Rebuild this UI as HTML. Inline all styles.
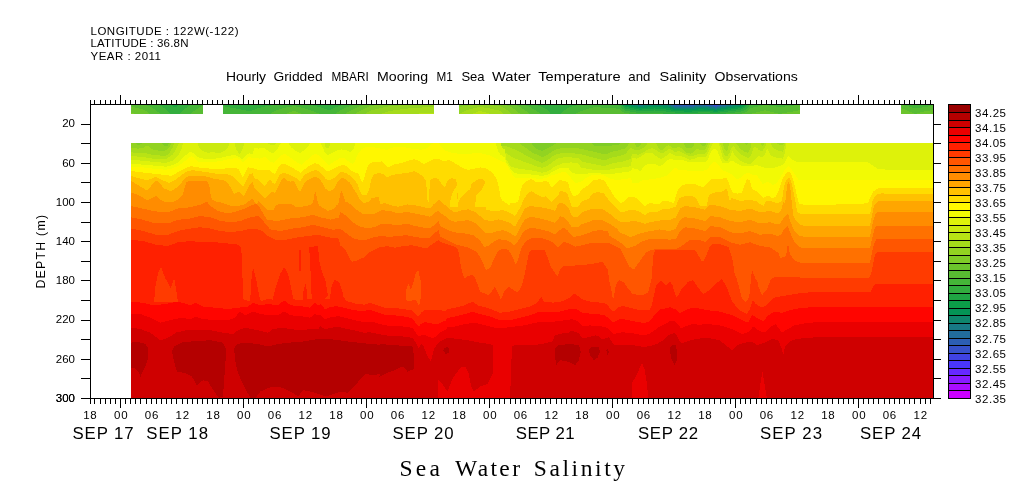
<!DOCTYPE html>
<html><head><meta charset="utf-8"><title>Sea Water Salinity</title>
<style>html,body{margin:0;padding:0;background:#fff}svg{display:block}text{font-family:"Liberation Sans",sans-serif;fill:#000}.s{font-family:"Liberation Serif",serif}</style></head><body>
<svg width="1009" height="504" viewBox="0 0 1009 504">
<rect width="1009" height="504" fill="#fff"/>
<g shape-rendering="crispEdges">
<clipPath id="fc"><rect x="131.0" y="143.0" width="802.6" height="255.5"/></clipPath>
<g clip-path="url(#fc)">
<rect x="131.0" y="143.0" width="802.6" height="256.0" fill="#7fcc27"/>
<path d="M130 400L130 140L131 140L135 140L136 143.4L138 144.9L141 144.4L142 144L143 140L161 140L162 143.3L164 145.7L167 146.6L171 140L529 140L535 148.1L542 151L548 148.2L555 144.2L559 140L588 140L594 145.5L606 146.1L618 144.9L626 140L933 140L934.6 140L934.6 400Z" fill="#92d321"/>
<path d="M130 400L130 148L131 148L138 148.6L143 148L147 145.6L149 146.6L153 149.9L163 151.1L168 149.2L170 146.2L171 143.5L172 140L515 140L531 151.8L542 157.2L547 155L554 150.3L559 148.6L566 148L576 148L584 149.4L601 153.6L606 154.2L612 151.8L619 150.3L625 148.4L628 145.9L630 140L634 140L635 143.9L637 147.4L640 145.9L641 145L642 140L682 140L686 147.5L689 148.5L690 148.4L693 146.9L696 140L699 140L700 143.6L702 146.1L705 145.6L706 145L707 140L743 140L746 145.2L748 143.2L749 140L933 140L934.6 140L934.6 400Z" fill="#a5db1b"/>
<path d="M130 400L130 152.4L131 152.4L148 153.6L153 154.9L160 155.5L166 155.5L167 155.2L170 152.2L173 146.8L174 143.8L175 140L340 140L341 146.1L506 146.1L518 150.9L527 156L536 160.5L542 162.9L547 160.6L554 155.3L559 153.6L568 153L579 153.8L602 159.8L606 159.9L612 157.5L621 155.5L626 153.6L629 149.4L631 147.6L632 149.2L638 150.4L639 150.1L643 148.1L647 144.2L650 140L655 140L656 143.5L658 147.5L661 150.2L662 150L668 145.1L674 148.4L675 148.4L678 146.9L679 147.1L682 148.6L687 153L690 153.5L691 153.5L694 152L697 148.6L702 150.5L705 149.5L706 148.6L708 143.6L709 140L722 140L724 148L725 149.8L727 151.8L730 140L735 140L736 143.3L740 148.4L744 151.4L748 152.9L750 149.5L751 147L752 140L759 140L762 146.5L764 144.5L765 140L776 140L777 143.2L780 145.5L783 144.9L784 143.4L785 140L933 140L934.6 140L934.6 400Z" fill="#b8e315"/>
<path d="M130 400L130 156.1L131 156.1L141 156.8L153 158.6L165 159.2L166 158.9L172 155.2L175 151.2L179 143.5L180 140L342 140L343 153L506 153L513 157.7L536 166.1L542 167.9L547 166.2L557 158.8L563 157.4L571 157.4L579 158.5L580 158.9L582 161.4L583 161.9L601 165.5L606 165.5L613 163.2L622 161.8L628 159.8L631 158.5L632 153.6L638 154.8L643 152.5L648 149.4L652 148L657 150.5L661 153.5L664 152.5L669 149L670 148.9L674 151.4L675 151.7L679 151.2L680 151.4L684 153.4L689 156.4L690 156.6L694 155.6L699 153.8L704 154.2L705 153.7L707 151.2L708 149.4L710 143.4L711 140L719 140L720 144L722 148L724 154.3L727 156.8L730 151.9L731 149.1L733 145.8L734 146.6L736 149.5L741 154.4L746 157.4L749 157.9L750 157L752 153L754 146.8L757 147.7L758 149.2L761 151.2L762 151.4L765 147.5L766 143.5L767 140L770 140L771 144L773 148L778 150.5L783 151.8L785 144.2L786 140L933 140L934.6 140L934.6 400Z" fill="#cbea10"/>
<path d="M130 400L130 159.9L131 159.9L141 160.6L165 162.9L166 162.8L173 160.5L178 155.5L181 150.5L184 140L197 140L198 144.7L199 147.3L200 148.6L203 151.1L208 153L213 151.8L218 153.6L223 151.8L228 148L229 144L230 140L234 140L236 148.8L239 153.8L240 153.3L242 150.9L244 144L245 140L267 140L268 143.2L270 144.7L274 145.5L277 143.1L278 140L324 140L325 146L326 147.3L327 148.1L328 148.3L330 145.8L331 140L500 140L502 148.1L505 149.4L506 159.2L511 166.8L519 168.7L536 171.1L542 172.9L548 171.3L554 167.1L558 165.1L563 163.2L571 162.4L578 163.2L581 167.4L588 169.1L596 169.9L606 170.5L614 168.6L631 166.3L632 158L637 158.6L641 156.5L645 153.5L649 152.5L650 152.5L653 153.5L657 156.8L661 159.1L665 156.9L669 153.4L670 153.2L675 155.5L680 155.7L684 157.2L689 159.6L690 159.8L694 158.8L699 156.9L705 157.3L706 156.9L708 153.4L711 146.4L713 143.4L714 140L718 140L720 148.2L723 158.4L724 159.8L727 161.8L730 156.8L731 154.5L732 150.5L734 154.4L738 159L744 162.7L750 164.1L751 164L757 157.8L758 155.5L761 157L762 157.2L765 154.7L767 148.5L770 154.5L771 155.7L777 158L783 158.6L785 152.4L787 140L933 140L934.6 140L934.6 400Z" fill="#def20a"/>
<path d="M130 400L130 163.6L131 163.6L166 166.7L172 165.4L178 162.4L187 154.1L190 152.1L191 152L193 153L197 156.8L203 158.6L216 158.5L223 157.4L230 155.6L235 154.9L236 155.2L242 159L243 158.5L246 155.2L249 153.2L253 154.5L254 148L259 148.6L263 147.5L272 153.2L273 153.4L277 149.4L280 144.7L282 143.1L283 140L287 140L291 147.3L295 150.3L300 152.9L304 150.5L308 146.4L310 143.4L311 140L319 140L325 152.6L327 154.8L328 155.3L332 152.8L336 150.8L341 149.4L346 149.8L350 152.2L351 151.5L354 148L355 144L356 140L495 140L498 151.2L501 155.2L505 157.5L506 161.8L509 166.8L510 168.2L515 173.1L521 174.2L529 174.3L536 174.9L542 176.1L548 174.4L558 168.9L563 167.5L568 167.9L569 168.8L571 171.8L576 174.2L583 174.2L591 173L598 173L606 174.2L614 173.6L631 171.3L632 168L637 169.2L640 170.8L641 170.8L644 166.2L645 165.3L649 163.8L654 163.6L659 165.9L660 165.9L663 164.4L669 159.1L670 158.8L675 159.9L682 159.9L688 161.7L697 161.8L704 162.3L705 162L708 159.5L711 151.4L713 148.9L714 148.9L717 149.9L722 162.4L727 163.6L732 160.5L736 163.1L741 165.5L749 166.1L754 165.6L757 164.6L758 165.5L766 168L773 168L781 165.8L785 162.7L787 157.7L788 156.5L789 156.2L792 159.4L798 162.4L868 162.4L873 165.5L877 168.6L884 168.6L885 169.5L933 169.5L934.6 169.5L934.6 400Z" fill="#f2fa04"/>
<path d="M130 400L130 166.8L131 166.8L143 167.4L153 168.6L166 169.8L172 168.5L178 166.1L184 161.9L189 157.6L191 156.5L192 156.3L194 157.8L198 161.8L206 162.3L215 161.8L223 160.5L230 158.8L236 158.1L237 158.1L240 159.6L243 163L246 158.9L249 156.9L253 158.2L254 158L260 158.6L265 156.8L266 157.5L270 161.5L274 163L281 155.4L284 153.9L285 153.9L298 163.1L301 164.6L302 164.5L312 155.5L313 154.8L316 153.7L319 155.5L326 163L329 164.9L339 158.6L341 157.6L342 157.5L345 158.5L349 161.8L352 163.8L353 163.9L355 160.9L358 153.9L361 149.9L362 149L366 146.8L367 146.6L379 147.9L380 148.6L387 149.8L388 149.6L393 147.3L402 146.8L411 148.6L421 149.8L427 148.2L431 144.5L433 143.4L434 140L438 140L439 143.4L441 146.4L445 150.5L452 152.8L461 154.2L480 153L490 155.5L502 161.5L505 161.8L506 164L510 170.3L513 175.8L514 177L517 178.5L531 177.4L539 179.2L546 178L551 175.5L556 174.2L561 172.4L566 172.4L570 176L572 180L576 183L581 181.8L586 178L591 175.5L598 174.6L605 175.7L610 178.7L616 179.9L623 179.3L631 178.1L632 182.4L637 183.6L642 180.5L659 178.1L667 175.5L672 170.5L675 168L676 167.6L678 169.6L684 170.4L702 171.1L707 169.9L711 164.1L714 162.1L715 162.1L718 164.1L722 169.9L729 172.8L733 175.3L737 179.2L741 177.8L745 173.9L747 172.8L748 172.6L751 174.3L757 175.3L758 177.4L763 184.2L767 182L768 182.1L773 184.9L776 183.4L777 182.6L785 169.7L788 166.2L789 165.9L792 169.7L795 174.7L799 180.2L800 180.5L933 180.4L934.6 180.4L934.6 400Z" fill="#fff700"/>
<path d="M130 400L130 171.1L131 171.1L171 175.7L172 175.6L184 168.8L190 166.3L191 166.2L198 167.4L206 168.1L215 169.4L231 168L238 168.6L243 177.4L245 172.8L248 167.4L253 167.9L254 168.6L259 169.9L264 170.5L268 169.4L274 173.8L275 173.5L278 167.7L281 164.2L284 163.7L285 163.8L294 168.6L301 172.9L304 169.9L308 166.6L315 163.1L319 164.2L326 170.7L327 171L330 170.5L341 165.3L343 165L346 166L350 169.6L354 172.4L357 172.9L358 173.5L360 177.5L362 182.7L364 179.2L366 171.4L368 165.9L371 162.9L372 162.3L376 161.6L380 161.8L382 161.2L383 161.9L385 164.9L388 167.3L393 164.8L401 163.1L413 159.4L414 159.3L419 160.7L423 163.7L424 164.1L430 161.1L434 158.6L438 158.6L439 158.8L444 161.6L448 159.9L449 160.2L453 162.1L464 168.7L468 169.7L469 169.8L480 167.4L486 168.6L492 172.1L496 177.6L497 180.2L499 187.5L500 195.5L502 200.6L506 203L509 206L510 203.1L512 203.4L516 202.8L517 202.2L519 199.7L520 192.2L522 186.2L523 184.8L527 180.8L531 179.2L536 181.8L541 182.4L546 180.5L549 182.9L551 186.8L552 187.6L558 181.6L560 180L568 182L570 190L573 196L578 195L582 189L589 185L592 181L593 180.2L594 179.8L600 179.3L604 180.1L605 181L607 185L616 199L620 203L624 202L628 197.5L632 196.5L636 198L640 202L645 206L650 202.5L655 204L660 204.4L661 201.7L664 200.7L665 200.6L674 202.9L675 200L676 194.9L678 189.9L682 185.5L688 183.7L694 183.6L700 186.3L703 187.3L711 179.2L717 178.6L722 179.2L725 177.8L726 177.7L728 180.2L731 189.6L733 192.6L734 193.1L738 193.6L742 192.4L744 185.9L747 179.2L750 180.4L752 189.2L757 191.3L758 193L763 198L768 195.5L773 198.6L776 196.1L777 194.8L783 178L786 173.2L788 171.6L789 171.6L791 174.1L792 176.7L794 182.3L797 196.4L799 203.4L800 204.3L808 204.9L858 204.2L868 203L870 198L873 191.8L877 188.6L885 187.8L933 187.8L934.6 187.8L934.6 400Z" fill="#ffdc00"/>
<path d="M130 400L130 175.8L131 175.8L138 178L147 180.4L156 176.8L162 180L169 182.9L174 180.6L185 172.6L188 171.1L193 170.2L213 173L218 174.2L226 173.8L231 175.3L232 175.8L243 186.8L249 174.8L250 174.1L253 173.3L254 178L258 179.5L264 185.5L265 185.6L269 180.1L270 179.7L273 183.2L274 183.8L275 183.5L277 179.5L280 174.7L284 172.4L288 174.3L293 176.3L297 178.6L300 181.5L302 178.2L305 174.6L310 171.9L315 170L319 171.1L323 175.2L326 179.3L329 180.5L334 178L338 174.1L341 172.1L342 171.9L346 172.9L347 173.4L354 179.2L358 185L360 191L362 194.4L363 195.5L366 195L367 194L369 190.5L371 180.2L374 174.2L380 173L384 174.5L387 177L388 177.1L393 174.8L410 172.4L414 171.2L418 172.8L422 175.8L426 180.2L428 206L429 197.6L430 180.2L435 177.4L439 179.7L442 184.7L445 188L447 182L448 180.2L451 178.2L456 179.2L457 184.9L458 201.3L459 202.7L460 198L465 193L470 189.2L472 182.9L480 178.6L484 179.8L485 182.1L486 209.7L487 210.2L495 211L503 210.2L510 212.7L515 216L519 209.7L522 203.8L524 198.6L527 194.6L531 191.1L535 193.2L539 195.7L543 197.2L544 197.1L546 196.1L551 201.8L552 202L555 198.9L559 193.9L560 191L565 192L568 195L570 202L572 207L578 206.5L582 201.5L589 198.5L593 193L598 192L604 193.5L608 199L614 206L620 212L624 212L628 210.5L634 210L640 212L645 215L650 212L656 212L660 211.2L661 209.6L670 208.5L676 206.5L678 201L679 199L680 197.8L685 196.1L692 195.5L696 198.5L700 206L707 206L708 198L710 194.5L714 192.6L720 192.2L724 190.7L726 188.7L727 189.2L730 201.8L731 197.6L740 201L750 199.8L757 201.5L758 203L764 206L765 201.6L770 201L777 203.3L778 203.2L781 201.8L782 200.3L783 193L785 182.8L787 179.3L789 177.5L791 180.3L796 203.8L797 211.4L798 212.5L801 213.9L802 214L870 214L871 210.8L872 203.2L873 199.2L877 194.2L884 193L885 194.2L933 194.2L934.6 194.2L934.6 400Z" fill="#ffc100"/>
<path d="M457 184.9L452.5 193L450.6 199.2L450 206.8L457.8 206.8Z" fill="#ffdc00"/>
<path d="M485.2 183L481.2 190.5L476.2 195.5L475 206.8L485.8 206.8Z" fill="#ffdc00"/>
<path d="M130 400L130 181.1L131 181.1L137 184.4L146 190L147 190.2L150 187.2L154 182.1L157 180.7L158 181.2L164 188.3L170 190.9L171 190.9L175 188.9L180 184.7L184 179.6L187 176.7L191 175.8L205 176.1L215 179.1L223 179.9L228 183L232 189.8L234 193.8L235 193.7L238 191.5L239 191.5L243 196L244 196L250 184.1L253 181.4L254 188L264 198L265 198.2L271 192.2L272 191.9L275 192.9L278 187.5L281 180.4L284 177.4L287 180.4L290 181.7L294 181.1L297 186.6L299 191L300 191.7L305 182.2L306 181.3L310 178.8L315 176.6L319 178.6L323 183.6L325 188.1L326 189.1L329 191.1L334 189.2L337 183.2L340 179L342 177.8L343 177.5L350 182.8L357 194.2L360 200L364 203L369 201.8L371 198.8L372 197.9L379 196.9L380 204.2L385 203L393 205.8L394 205.5L398 206.7L407 204.4L415 205.2L430 208.5L434 203.8L435 204.2L437 201L439 199.5L442 202L444 205L445 204.3L450 209.3L455 212.7L462 210.1L468 209.4L469 209.6L475 211.8L485 220.2L492 220.9L498 219.4L499 219.5L505 221L510 222.7L515 226.8L525 208.5L530 206L543 207.6L550 209.3L555 211L556 209.5L557 205.8L560 203L565 204L569 209L571 214L573 217L578 216.5L582 212L589 210L593 208.5L600 208.5L604 210L610 214L616 219L620 221.5L626 222L634 221L640 222L645 224L650 222L660 220.6L661 219.8L670 219.8L676 217.3L680 208.5L685 206L695 207.2L705 209.8L710 204.8L720 206L730 209.8L740 211L750 208.5L760 212.2L770 211L777 213.3L778 213.1L781 210.7L782 206.5L784 201.2L785 205.4L787 186L788 182.1L789 182.1L790 185.4L793 214.1L794 217.6L799 224.1L803 225.5L870 225.5L874 205.5L875 205.2L877 201.7L884 200.5L885 200.8L933 200.8L934.6 200.8L934.6 400Z" fill="#ffa600"/>
<path d="M130 400L130 192.4L131 192.4L137 194.4L141 196.4L147 200.4L151 198.7L156 195.6L159 198.9L164 201.6L172 202.3L178 199.9L182 195.9L183 193.3L186 182.8L187 181.9L189 181.1L206 181.1L207 181.5L209 184.2L211 196.8L212 199.6L215 201.4L223 203L231 205.8L232 205.5L236 206.4L244 204.8L251 199.6L253 198.4L254 201.1L257 205.6L258 200.4L261 204L268 210.5L274 209.6L275 205.8L279 204.2L291 204.2L295 206L296 207.3L303 206.5L311 204.9L313 202.7L315 191L316 193.8L318 202.8L319 205.4L328 211L334 208.6L337 204.8L338 205.6L341 190.1L342 191.1L346 203.4L347 201.3L355 208.5L362 213.5L373 214.3L382 210.2L390 211L398 213.4L407 211.9L423 215.1L430 216.8L435 212.7L438 211.2L439 211.4L440 212.7L445 216L450 220.2L455 221.8L468 220.2L475 222.7L485 232.7L490 233.5L497 231L503 230.2L508 231.7L515 236.3L516 236.5L522 223.8L525 219.3L530 216.8L537 217.8L550 221L555 222.7L559 218L560 216L565 218L569 223L572 227.5L578 227L582 224L589 222L593 220L600 219.5L604 221L610 224L616 228L618 230L619 231.8L630 237.2L640 233.5L650 231L656 230.3L660 229.2L661 229.9L670 231L676 228.6L680 219.8L685 217.2L695 218.5L705 221L710 216L720 217.2L730 221L740 222.2L750 219.8L760 223.5L770 222.2L777 224.6L778 224.4L781 222.7L782 220.1L788 213.5L790 221L794 230L799 235.6L803 236.5L870 236.5L872 226L874 218L875 215.2L877 212.2L933 212.2L934.6 212.2L934.6 400Z" fill="#ff8c00"/>
<path d="M130 400L130 206L131 206L155 211.4L168 212.2L178 208.5L190 207.3L200 204.9L206 201.9L207 201.8L211 206.3L218 211L228 213.5L238 211L248 207.2L255 203.8L256 204L260 208L267 219.8L278 221L291 218.4L303 217.2L313 214.8L321 217.4L330 219.6L331 219.6L339 217.6L340 211.8L346 215.6L353 222.3L360 226.8L368 228.4L375 226.8L382 223.5L398 225.1L407 223.6L415 226L423 227.6L430 228.5L435 224.3L438 221.3L439 221.3L440 226L450 231L457 232.7L465 233.5L473 235.1L480 240.2L484 246.6L485 246.7L488 246.1L494 241.5L498 239.5L499 239.4L505 239.7L510 241.8L514 245.8L518 241.4L522 233.9L525 230.2L531 227.7L537 228.6L550 231.8L555 234.3L559 230.6L563 227.9L564 228L567 229.8L570 233.5L573 236.5L574 236.8L580 236L594 230.9L600 230.2L608 231L609 235.7L610 236L620 242.2L627 248.1L628 248.3L635 246L643 240.9L652 238.6L660 238.5L670 239.8L676 238.6L680 231L685 227.2L695 228.5L705 231L710 226L720 227.2L730 232.2L740 233.5L750 231L760 234.8L770 233.5L777 235.8L778 235.8L782 234.2L783 230.5L786 227.5L788 226L790 232.2L794 241.3L799 246.8L802 247.8L870 248L874 230.5L875 227.9L877 225.5L933 225.5L934.6 225.5L934.6 400Z" fill="#ff7100"/>
<path d="M130 400L130 217.2L131 217.2L143 219.8L155 223.3L168 223.5L178 219.8L190 218.6L200 216.1L210 217.2L221 221.1L231 222.2L240 221.1L250 217.4L258 216L264 222L270 229.2L271 229.8L281 230.9L293 228.5L303 227.2L313 224.8L333 229.8L339 229L340 228.5L353 238.2L360 240.2L368 239.4L375 236.8L381 236.1L390 236.8L406 235.2L424 238.4L430 237.7L435 232.7L438 230.4L439 230.4L440 236.7L456 244.7L468 247.4L476 251.3L477 252.2L481 258.9L486 269.9L490 268.3L493 260.8L498 251.4L499 250.5L503 248.5L504 248.6L508 249.9L509 251.1L512 255.9L515 262.9L516 264.6L518 259.2L522 246.3L527 240.7L533 237.7L534 237.6L544 238.6L553 242.4L558 247.2L559 246.7L563 242.1L564 241.9L568 243.2L575 246.7L583 245.1L593 242.6L610 243.5L620 248.5L625 257.6L629 266.2L633 269.2L634 269.4L646 252.6L651 249.9L660 248.5L677 248.5L678 248.2L685 243.5L690 239.8L700 239.8L705 242.2L710 237.2L720 237.2L730 242.2L740 244.8L750 242.2L760 246L770 247.2L779 253.5L780 258.5L786 256.1L788 242.2L789 249.8L790 254.2L795 261L802 263L870 263L872 252.2L874 244.2L875 241.5L877 238.5L933 238.5L934.6 238.5L934.6 400Z" fill="#ff5600"/>
<path d="M130 400L130 228.5L131 228.5L143 231L156 234.8L168 234.8L178 231L190 228.6L200 227.3L210 228.4L220 230.9L230 232.2L240 231.1L251 228.6L260 229.7L261 230.2L268 236L276 239.8L286 239.7L298 237.2L318 234.8L328 237.2L339 238.7L340 245.2L345 249.3L349 257.3L351 260.7L352 261.8L358 260.2L365 256.8L370 251.8L379 247.5L387 246.1L395 247.7L403 246.1L412 245.2L426 248.3L427 248.2L432 244.1L438 240.4L439 240.5L440 241.7L456 247.2L457 248.3L459 252.9L461 267.3L464 277.7L465 277.8L469 275.7L473 275.1L474 276.3L477 282.7L480 291.7L488 294.9L489 294.3L492 291.2L495 286.7L501 299.6L504 292.1L508 287.1L509 287.1L517 292.2L518 291.8L521 287.6L522 285.3L524 277.3L529 252.4L530 251L532 249.7L545 250.3L551 266.9L557 276L558 275.3L560 270L563 266.7L564 266.3L584 264.9L593 263.7L602 261.8L603 262.4L608 270L609 280.2L610 283.5L613 299.3L614 296L615 289.3L616 285L618 281.2L619 279.9L624 282.6L630 291L631 291.5L632 294L642 295.2L648 292.9L652 276.5L653 256L655 250.5L670 249.8L695 249.8L702 261.4L703 261.4L706 256.4L710 246L714 243.5L722 244.7L728 246.9L729 248L732 257L733 262L735 276L736 276.5L738 283.2L742 299L745 302L746 302.3L749 297.3L750 290.2L751 277.8L752 269.8L756 280.3L757 279L758 285L759 288.2L762 295.2L767 289L771 278.9L777 276.5L807 277.8L869 277.8L870 276.5L871 274L875 254.8L877 252.2L878 251.5L933 251.5L934.6 251.5L934.6 400Z" fill="#ff3b00"/>
<path d="M130 400L130 239.8L131 239.8L143 241L156 244.8L168 246L178 242.2L190 241.1L203 242.2L216 242.3L239 244.7L241 248.2L242 256.8L243 299.2L248 301L258 302L268 299L278 300.2L288 297.8L298 300.2L318 297.8L328 299L341 301.4L343 301L344 297.4L346 300.6L347 301.2L355 303.5L364 304.7L370 302.9L385 307.9L395 307.9L412 310.3L413 311L417 315.3L418 316.1L419 316.2L421 312.7L424 310.4L430 309.8L437 309.8L446 311L447 309.4L455 307.8L465 305.2L472 301.8L473 301.9L478 305.4L488 307.9L500 312.8L510 311.5L530 306.5L537 303L538 301.9L541 296.9L542 298L544 301.5L553 302.7L563 301.2L569 298.2L573 294.2L574 293.6L578 295.8L583 299.9L590 301.6L604 303L607 304.5L611 309.4L613 311.1L614 311.4L618 307.7L622 306.2L623 306.1L638 309.8L645 310.4L650 309.8L652 304.2L656 286L657 284L660 281L661 280.5L665 284.5L666 285.1L670 282.1L671 282.2L672 284.8L673 286L674 291L676 296.8L677 296.7L679 294.2L682 288.1L683 287.8L688 281.8L689 281.3L693 280.3L694 281.4L698 287.4L703 293.7L704 293.6L709 290.6L717 282.8L722 279L727 287.8L732 301.5L739 309.7L740 310.5L747 314L750 309L752 302L753 300.8L756 304.1L762 307.8L768 304.1L773 298.1L774 297.6L802 292.8L817 292L870 292L871 291.4L873 287.1L876 283.5L933 283.5L934.6 283.5L934.6 400Z" fill="#ff2000"/>
<path d="M250 307.2L251 283.5L253 267.2L256 278.5L259.2 296L263 307.2Z" fill="#ff2000"/>
<path d="M270.5 307.2L275.5 288.5L280.5 273.5L284.2 267.2L288 273.5L291.8 291L295 307.2Z" fill="#ff2000"/>
<path d="M299 249.8L301 249.8L301 271L299 271Z" fill="#ff2000"/>
<path d="M303 307.2L303.5 291L305.5 283.5L307 291L307.5 307.2Z" fill="#ff2000"/>
<path d="M309.2 247.2L318 246L319.2 261L321.8 271L325.5 281L328 296L318 303.5L311.8 301L310.5 271Z" fill="#ff2000"/>
<path d="M329.2 307.2L331 288.5L334.2 279.8L339.2 282.2L343 293.5L345 307.2Z" fill="#ff2000"/>
<path d="M154.2 302.2L155 288.5L158 273.5L161 267.2L165.5 278.5L170.5 288.5L174.2 278.5L176 288.5L178 302.2Z" fill="#ff3b00"/>
<path d="M405.5 300L405.5 292L408.5 283.5L411 290L413 284L416 272L418.5 271L420.5 280L421.5 295L419 306L416 300L412 300.5L408 301Z" fill="#ff5600"/>
<path d="M130 400L130 301.5L131 301.5L143 302.8L153 305.2L165 304.1L178 301.5L190 305.1L191 305L195 303L196 303L203 306.5L228 309L248 306.5L253 302.8L260 305.1L261 305.2L268 304L278 305.2L284 300.4L285 300.9L290 304.9L291 305.3L303 306.5L310 307.7L311 307.1L314 303.1L315 303.2L319 305.6L320 303.5L325 309.1L330 307.2L336 306.1L345 307.9L355 310.4L364 310.9L370 309.8L385 314.8L395 315.4L405 316.6L412 318.4L413 319.2L417 324.9L418 325.9L419 326.3L421 323.8L425 322.2L432 323.4L437 324.6L438 324.4L441 322.4L446 320.4L447 318.1L455 316.5L465 314L472 311.7L473 311.7L480 314L490 316.5L500 320.2L510 320.2L530 315.2L540 311.5L560 311.5L569 309.2L570 308.5L576 309.1L583 312.9L604 314.9L609 318.2L612 321.7L613 322.1L615 321.6L620 319.1L627 319.7L635 321.6L643 322.8L648 322.3L649 322L656 313.2L660 309.1L665 308.5L670 307.2L675 309.1L680 312.9L685 310.4L690 308.5L696 307.9L707 310.2L720 311.6L732 315.2L742 320.2L748 322.6L749 321.2L752 315.2L757 317.8L763 321.4L764 320.6L768 315.6L774 311.8L775 311.6L782 312.8L790 310.1L802 307.8L817 307L933 307L934.6 307L934.6 400Z" fill="#ff0500"/>
<path d="M130 400L130 314L131 314L141 314.2L150 317.6L160 322.5L161 322.6L180 317.9L190 318.9L191 318.8L195 316.8L196 316.7L203 319L216 320.2L228 320.2L235 317.9L236 316.9L239 311.9L240 311.9L245 314.9L246 315L253 311.5L260 313.8L268 315.2L278 315.2L284 311.6L291 315.3L303 316.5L310 317.7L311 317.2L314 314.2L315 314.2L319 315.4L320 314.8L325 319.1L331 317.3L338 316.1L363 322.1L364 322.2L370 321.6L376 322.8L385 325.4L405 326.6L412 327.8L413 328.6L418 335.6L419 336.5L422 334.8L426 335.3L432 338.2L433 338.2L436 336.2L440 332.2L446 329.8L447 327.5L455 326.5L465 324L475 322.8L495 327.8L505 327.8L525 325.2L535 322.8L545 321.5L555 321.5L565 320.2L569 320.2L570 319.1L575 319.8L579 322.5L582 325.5L583 326L590 325.4L603 326.6L607 327.7L614 334L618 332.8L623 332.3L630 332.9L644 335.3L649 334L654 330.8L659 327.1L664 324.6L671 320.5L675 321.6L679 325.7L681 328.2L682 328.1L685 326.6L690 324.8L696 323.5L697 325L707 324L720 325.4L732 329L742 334L749 331.7L750 330.8L753 326.8L754 327.1L758 330.1L764 332.6L765 332.2L770 327.4L775 324.4L776 324.4L782 332.8L786 330.1L794 325.5L807 322.8L822 322L933 322L934.6 322L934.6 400Z" fill="#ea0000"/>
<path d="M130 400L130 327.8L131 327.8L140 328.9L150 332.6L160 339.9L161 340.1L168 337.8L176 332.6L186 330.2L210 330.2L223 332.8L233 334L238 330.2L245 327.9L246 327.9L258 330.2L268 332.8L273 329L283 327.8L298 330.2L319 328.5L320 326L325 329.1L337 326.7L338 326.8L345 328.5L355 330.4L364 332.9L370 332.2L385 335.4L405 336.6L412 337.8L413 338.6L416 343.1L419 349L420 345.2L422 344.2L423 345.2L427 355.2L428 357.2L431 361.2L434 348.9L439 342.1L447 337.9L448 337.8L467 340.2L480 342.8L490 344L493 345.2L494 400L510 400L512 346.3L515 345.2L530 345.2L542 344.1L552 341.6L553 340.2L555 335.2L565 332.8L569 333.2L570 331L575 331.6L578 333.1L579 333.8L582 337.8L583 338.4L589 337.2L595 335.4L599 336.2L602 339.2L603 339.5L606 338L608 337.4L609 337.6L614 344.8L618 345.3L624 344.8L630 345L637 345.7L644 347.2L650 346L657 343.8L662 341.2L667 336.5L671 333.7L675 333.2L677 335.4L680 342.2L682 343.2L683 343.2L688 340.9L697 338.8L707 337.8L719 340.1L720 340.7L732 350.2L737 345.2L744 342.9L752 341.5L757 345.2L764 342.9L772 339L778 340.2L782 349L783 355L784 352.2L785 346.5L789 342.1L790 341.3L797 339L807 337.8L822 337L933 337L934.6 337L934.6 400Z" fill="#cf0000"/>
<path d="M129.2 342.8L138 342L145.5 344L148.5 349L148 359L144.2 369L140.5 376.5L138 371.5L134.2 367.8L129.2 369Z" fill="#b40000"/>
<path d="M171.8 351.5L174.2 346.5L183 342L198 341L210.5 340.2L223 342.8L226 349L225.5 361.5L224.2 379L223 396.5L219.2 398L214.2 391.5L208 381.5L203 380.2L196.8 385.2L191.8 376.5L184.2 372.8L176.8 371.5L174.2 361.5Z" fill="#b40000"/>
<path d="M234.2 349L236.8 344L245.5 342.8L258 344L268 346.5L278 344L288 342.8L303 341.5L318 339L333 339.5L348 341.5L363 343.2L380.5 344.8L380.5 374L373 375.2L365.5 374L360.5 379L354.2 386.5L348 392.8L340.5 391.5L333 394L325.5 396.5L318 394L310.5 391.5L303 390.2L298 396.5L290.5 391.5L283 387.8L275.5 386.5L268 387.8L260.5 391.5L255.5 398L250.5 398L245.5 389L240.5 379L236.8 369L235 359Z" fill="#b40000"/>
<path d="M379.5 344L395 345.2L412.5 346.5L414.2 356.5L413.8 369L407.5 371.5L402.5 366.5L395 370.2L387.5 372.8L379.5 376.5Z" fill="#b40000"/>
<path d="M443.2 350.2L444.5 347.8L447.5 347.2L449.5 349.8L448.8 352.8L445.8 354Z" fill="#b40000"/>
<path d="M555 349L558.8 345.2L570 344L578.8 345.2L580.8 351.5L578.8 360.2L575 365.2L567.5 361.5L560 360.2L556.2 365.2L555 356.5Z" fill="#b40000"/>
<path d="M588.8 349L592.5 346.5L598.8 347L600 351.5L597.5 357.8L593.8 360.2L590 355.2Z" fill="#b40000"/>
<path d="M606.2 350.2L608 349L609 352L607.5 355.2Z" fill="#b40000"/>
<path d="M669.5 349L672 345.2L675.8 345.2L677 351.5L676.5 361.5L674.5 365.2L671.5 359Z" fill="#b40000"/>
<path d="M438 399L438 379L442.5 384L447.5 391.5L452.5 379L460 367.8L465 366.5L468.8 374L471.2 386.5L473.8 391.5L480 386.5L487.5 384L492.5 374L494 369L494 399Z" fill="#ea0000"/>
<path d="M631.5 384L637 374L642 362.8L644.5 369L647 384L648.2 399L631.5 399Z" fill="#ea0000"/>
<path d="M758.2 399L760.8 381.5L762.5 371.5L764.5 384L767 399Z" fill="#ea0000"/>
</g>
<path d="M714 104h4v1h-4z" fill="#4a36fa"/>
<path d="M675 104h17v1h-17zM710 104h4v1h-4zM718 104h2v1h-2z" fill="#4043e3"/>
<path d="M673 104h2v1h-2zM692 104h7v1h-7zM701 104h9v1h-9zM720 104h4v1h-4zM713 105h5v1h-5z" fill="#3651cb"/>
<path d="M670 104h3v1h-3zM699 104h2v1h-2zM724 104h4v1h-4zM674 105h21v1h-21zM706 105h7v1h-7zM718 105h3v1h-3zM714 106h3v1h-3z" fill="#2c5eb4"/>
<path d="M637 104h8v1h-8zM668 104h2v1h-2zM728 104h6v1h-6zM671 105h3v1h-3zM695 105h11v1h-11zM721 105h5v1h-5zM674 106h20v1h-20zM709 106h5v1h-5zM717 106h3v1h-3zM715 107h2v1h-2z" fill="#226b9c"/>
<path d="M631 104h6v1h-6zM645 104h9v1h-9zM656 104h12v1h-12zM734 104h7v1h-7zM638 105h5v1h-5zM669 105h2v1h-2zM726 105h6v1h-6zM671 106h3v1h-3zM694 106h15v1h-15zM720 106h6v1h-6zM674 107h20v1h-20zM710 107h5v1h-5zM717 107h3v1h-3zM715 108h2v1h-2z" fill="#187985"/>
<path d="M625 104h6v1h-6zM654 104h2v1h-2zM741 104h2v1h-2zM632 105h6v1h-6zM643 105h11v1h-11zM656 105h13v1h-13zM732 105h8v1h-8zM638 106h6v1h-6zM668 106h3v1h-3zM726 106h7v1h-7zM671 107h3v1h-3zM694 107h16v1h-16zM720 107h6v1h-6zM674 108h22v1h-22zM708 108h7v1h-7zM717 108h3v1h-3zM715 109h2v1h-2z" fill="#0e866d"/>
<path d="M624 104h1v1h-1zM743 104h2v1h-2zM626 105h6v1h-6zM654 105h2v1h-2zM740 105h3v1h-3zM631 106h7v1h-7zM644 106h24v1h-24zM733 106h8v1h-8zM636 107h12v1h-12zM663 107h8v1h-8zM726 107h9v1h-9zM670 108h4v1h-4zM696 108h12v1h-12zM720 108h8v1h-8zM673 109h25v1h-25zM704 109h11v1h-11zM717 109h4v1h-4zM714 110h3v1h-3z" fill="#049456"/>
<path d="M622 104h2v1h-2zM745 104h2v1h-2zM623 105h3v1h-3zM743 105h2v1h-2zM625 106h6v1h-6zM741 106h3v1h-3zM629 107h7v1h-7zM648 107h15v1h-15zM735 107h7v1h-7zM634 108h20v1h-20zM655 108h15v1h-15zM728 108h10v1h-10zM639 109h3v1h-3zM666 109h7v1h-7zM698 109h6v1h-6zM721 109h10v1h-10zM671 110h43v1h-43zM717 110h7v1h-7zM684 111h8v1h-8zM713 111h5v1h-5z" fill="#0c9e49"/>
<path d="M169 104h12v1h-12zM172 105h6v1h-6zM173 106h4v1h-4zM325 104h8v1h-8zM553 104h4v1h-4zM621 104h1v1h-1zM747 104h1v1h-1zM622 105h1v1h-1zM745 105h2v1h-2zM623 106h2v1h-2zM744 106h2v1h-2zM624 107h5v1h-5zM742 107h3v1h-3zM625 108h9v1h-9zM654 108h1v1h-1zM738 108h5v1h-5zM630 109h9v1h-9zM642 109h24v1h-24zM731 109h10v1h-10zM636 110h18v1h-18zM655 110h16v1h-16zM724 110h12v1h-12zM666 111h18v1h-18zM692 111h21v1h-21zM718 111h10v1h-10zM675 112h23v1h-23zM710 112h10v1h-10z" fill="#1fa543"/>
<path d="M157 104h12v1h-12zM181 104h12v1h-12zM160 105h12v1h-12zM178 105h12v1h-12zM162 106h11v1h-11zM177 106h11v1h-11zM163 107h24v1h-24zM165 108h20v1h-20zM166 109h18v1h-18zM167 110h16v1h-16zM168 111h14v1h-14zM169 112h12v1h-12zM170 113h10v1h-10zM223 104h56v1h-56zM305 104h20v1h-20zM333 104h12v1h-12zM223 105h48v1h-48zM313 105h28v1h-28zM225 106h40v1h-40zM317 106h21v1h-21zM230 107h31v1h-31zM321 107h14v1h-14zM236 108h21v1h-21zM324 108h9v1h-9zM241 109h14v1h-14zM327 109h4v1h-4zM246 110h6v1h-6zM533 104h20v1h-20zM557 104h27v1h-27zM611 104h10v1h-10zM748 104h3v1h-3zM538 105h38v1h-38zM619 105h3v1h-3zM747 105h2v1h-2zM541 106h31v1h-31zM621 106h2v1h-2zM746 106h3v1h-3zM543 107h26v1h-26zM621 107h3v1h-3zM745 107h3v1h-3zM545 108h22v1h-22zM622 108h3v1h-3zM743 108h4v1h-4zM547 109h19v1h-19zM624 109h6v1h-6zM741 109h5v1h-5zM548 110h16v1h-16zM625 110h11v1h-11zM654 110h1v1h-1zM736 110h8v1h-8zM549 111h14v1h-14zM630 111h36v1h-36zM728 111h13v1h-13zM550 112h12v1h-12zM636 112h39v1h-39zM698 112h12v1h-12zM720 112h15v1h-15zM550 113h11v1h-11zM663 113h63v1h-63zM913 104h12v1h-12z" fill="#32ad3e"/>
<path d="M141 104h16v1h-16zM193 104h10v1h-10zM147 105h13v1h-13zM190 105h13v1h-13zM150 106h12v1h-12zM188 106h13v1h-13zM152 107h11v1h-11zM187 107h12v1h-12zM153 108h12v1h-12zM185 108h13v1h-13zM155 109h11v1h-11zM184 109h12v1h-12zM156 110h11v1h-11zM183 110h12v1h-12zM157 111h11v1h-11zM182 111h11v1h-11zM159 112h10v1h-10zM181 112h11v1h-11zM160 113h10v1h-10zM180 113h11v1h-11zM279 104h26v1h-26zM345 104h11v1h-11zM271 105h42v1h-42zM341 105h11v1h-11zM223 106h2v1h-2zM265 106h27v1h-27zM296 106h21v1h-21zM338 106h11v1h-11zM223 107h7v1h-7zM261 107h25v1h-25zM301 107h20v1h-20zM335 107h11v1h-11zM223 108h13v1h-13zM257 108h25v1h-25zM305 108h19v1h-19zM333 108h11v1h-11zM223 109h18v1h-18zM255 109h24v1h-24zM308 109h19v1h-19zM331 109h11v1h-11zM223 110h23v1h-23zM252 110h24v1h-24zM311 110h29v1h-29zM223 111h51v1h-51zM314 111h25v1h-25zM223 112h49v1h-49zM316 112h21v1h-21zM223 113h48v1h-48zM319 113h17v1h-17zM523 104h10v1h-10zM584 104h27v1h-27zM751 104h49v1h-49zM526 105h12v1h-12zM576 105h43v1h-43zM749 105h13v1h-13zM769 105h25v1h-25zM529 106h12v1h-12zM572 106h49v1h-49zM749 106h9v1h-9zM776 106h9v1h-9zM531 107h12v1h-12zM569 107h24v1h-24zM601 107h20v1h-20zM748 107h5v1h-5zM532 108h13v1h-13zM567 108h22v1h-22zM616 108h6v1h-6zM747 108h3v1h-3zM534 109h13v1h-13zM566 109h20v1h-20zM620 109h4v1h-4zM746 109h3v1h-3zM536 110h12v1h-12zM564 110h19v1h-19zM621 110h4v1h-4zM744 110h4v1h-4zM537 111h12v1h-12zM563 111h17v1h-17zM622 111h8v1h-8zM741 111h6v1h-6zM539 112h11v1h-11zM562 112h16v1h-16zM624 112h12v1h-12zM735 112h10v1h-10zM540 113h10v1h-10zM561 113h15v1h-15zM629 113h34v1h-34zM726 113h16v1h-16zM901 104h12v1h-12zM925 104h9v1h-9zM905 105h27v1h-27zM909 106h19v1h-19zM912 107h10v1h-10z" fill="#45b538"/>
<path d="M131 104h10v1h-10zM131 105h16v1h-16zM131 106h19v1h-19zM201 106h2v1h-2zM135 107h17v1h-17zM199 107h4v1h-4zM139 108h14v1h-14zM198 108h5v1h-5zM143 109h12v1h-12zM196 109h7v1h-7zM145 110h11v1h-11zM195 110h8v1h-8zM147 111h10v1h-10zM193 111h10v1h-10zM148 112h11v1h-11zM192 112h11v1h-11zM149 113h11v1h-11zM191 113h12v1h-12zM356 104h10v1h-10zM352 105h10v1h-10zM292 106h4v1h-4zM349 106h10v1h-10zM286 107h15v1h-15zM346 107h11v1h-11zM282 108h23v1h-23zM344 108h11v1h-11zM279 109h29v1h-29zM342 109h11v1h-11zM276 110h35v1h-35zM340 110h11v1h-11zM274 111h18v1h-18zM296 111h18v1h-18zM339 111h10v1h-10zM272 112h17v1h-17zM298 112h18v1h-18zM337 112h10v1h-10zM271 113h16v1h-16zM301 113h18v1h-18zM336 113h10v1h-10zM514 104h9v1h-9zM517 105h9v1h-9zM762 105h7v1h-7zM794 105h6v1h-6zM519 106h10v1h-10zM758 106h18v1h-18zM785 106h15v1h-15zM521 107h10v1h-10zM593 107h8v1h-8zM753 107h47v1h-47zM522 108h10v1h-10zM589 108h27v1h-27zM750 108h50v1h-50zM524 109h10v1h-10zM586 109h34v1h-34zM749 109h51v1h-51zM525 110h11v1h-11zM583 110h38v1h-38zM748 110h16v1h-16zM766 110h32v1h-32zM527 111h10v1h-10zM580 111h42v1h-42zM747 111h13v1h-13zM770 111h23v1h-23zM528 112h11v1h-11zM578 112h46v1h-46zM745 112h11v1h-11zM774 112h13v1h-13zM529 113h11v1h-11zM576 113h53v1h-53zM742 113h10v1h-10zM778 113h4v1h-4zM901 105h4v1h-4zM932 105h2v1h-2zM901 106h8v1h-8zM928 106h6v1h-6zM901 107h11v1h-11zM922 107h12v1h-12zM902 108h32v1h-32zM905 109h29v1h-29zM907 110h23v1h-23zM909 111h15v1h-15zM912 112h8v1h-8zM914 113h3v1h-3z" fill="#58bc32"/>
<path d="M131 107h4v1h-4zM131 108h8v1h-8zM131 109h12v1h-12zM131 110h14v1h-14zM131 111h16v1h-16zM131 112h17v1h-17zM134 113h15v1h-15zM366 104h16v1h-16zM362 105h12v1h-12zM359 106h10v1h-10zM357 107h10v1h-10zM355 108h10v1h-10zM353 109h10v1h-10zM351 110h10v1h-10zM292 111h4v1h-4zM349 111h10v1h-10zM289 112h9v1h-9zM347 112h10v1h-10zM287 113h14v1h-14zM346 113h10v1h-10zM504 104h10v1h-10zM507 105h10v1h-10zM510 106h9v1h-9zM512 107h9v1h-9zM513 108h9v1h-9zM515 109h9v1h-9zM516 110h9v1h-9zM764 110h2v1h-2zM798 110h2v1h-2zM517 111h10v1h-10zM760 111h10v1h-10zM793 111h7v1h-7zM518 112h10v1h-10zM756 112h18v1h-18zM787 112h13v1h-13zM520 113h9v1h-9zM752 113h26v1h-26zM782 113h18v1h-18zM901 108h1v1h-1zM901 109h4v1h-4zM901 110h6v1h-6zM930 110h4v1h-4zM901 111h8v1h-8zM924 111h10v1h-10zM901 112h11v1h-11zM920 112h14v1h-14zM901 113h13v1h-13zM917 113h17v1h-17z" fill="#6bc42c"/>
<path d="M131 113h3v1h-3zM382 104h33v1h-33zM374 105h24v1h-24zM369 106h19v1h-19zM367 107h16v1h-16zM365 108h14v1h-14zM363 109h12v1h-12zM361 110h10v1h-10zM359 111h10v1h-10zM357 112h10v1h-10zM356 113h10v1h-10zM459 104h45v1h-45zM459 105h9v1h-9zM494 105h13v1h-13zM459 106h3v1h-3zM501 106h9v1h-9zM503 107h9v1h-9zM505 108h8v1h-8zM506 109h9v1h-9zM508 110h8v1h-8zM509 111h8v1h-8zM510 112h8v1h-8zM511 113h9v1h-9z" fill="#7fcc27"/>
<path d="M415 104h19v1h-19zM398 105h36v1h-36zM388 106h46v1h-46zM383 107h39v1h-39zM379 108h29v1h-29zM375 109h25v1h-25zM371 110h22v1h-22zM369 111h19v1h-19zM367 112h18v1h-18zM366 113h16v1h-16zM468 105h26v1h-26zM462 106h39v1h-39zM459 107h18v1h-18zM484 107h19v1h-19zM459 108h14v1h-14zM490 108h15v1h-15zM459 109h10v1h-10zM494 109h12v1h-12zM459 110h7v1h-7zM499 110h9v1h-9zM459 111h5v1h-5zM501 111h8v1h-8zM459 112h3v1h-3zM502 112h8v1h-8zM459 113h1v1h-1zM503 113h8v1h-8z" fill="#92d321"/>
<path d="M422 107h12v1h-12zM408 108h26v1h-26zM400 109h34v1h-34zM393 110h41v1h-41zM388 111h46v1h-46zM385 112h49v1h-49zM382 113h37v1h-37zM477 107h7v1h-7zM473 108h17v1h-17zM469 109h25v1h-25zM466 110h33v1h-33zM464 111h14v1h-14zM482 111h19v1h-19zM462 112h14v1h-14zM486 112h16v1h-16zM460 113h13v1h-13zM489 113h14v1h-14z" fill="#a5db1b"/>
<path d="M419 113h15v1h-15zM478 111h4v1h-4zM476 112h10v1h-10zM473 113h16v1h-16z" fill="#b8e315"/>
</g>
<g shape-rendering="crispEdges">
<rect x="948.5" y="390.47" width="22.0" height="7.83" fill="#cc00ff"/>
<rect x="948.5" y="382.95" width="22.0" height="7.83" fill="#aa0dff"/>
<rect x="948.5" y="375.42" width="22.0" height="7.83" fill="#891bff"/>
<rect x="948.5" y="367.89" width="22.0" height="7.83" fill="#6728ff"/>
<rect x="948.5" y="360.37" width="22.0" height="7.83" fill="#4a36fa"/>
<rect x="948.5" y="352.84" width="22.0" height="7.83" fill="#4043e3"/>
<rect x="948.5" y="345.32" width="22.0" height="7.83" fill="#3651cb"/>
<rect x="948.5" y="337.79" width="22.0" height="7.83" fill="#2c5eb4"/>
<rect x="948.5" y="330.26" width="22.0" height="7.83" fill="#226b9c"/>
<rect x="948.5" y="322.74" width="22.0" height="7.83" fill="#187985"/>
<rect x="948.5" y="315.21" width="22.0" height="7.83" fill="#0e866d"/>
<rect x="948.5" y="307.68" width="22.0" height="7.83" fill="#049456"/>
<rect x="948.5" y="300.16" width="22.0" height="7.83" fill="#0c9e49"/>
<rect x="948.5" y="292.63" width="22.0" height="7.83" fill="#1fa543"/>
<rect x="948.5" y="285.11" width="22.0" height="7.83" fill="#32ad3e"/>
<rect x="948.5" y="277.58" width="22.0" height="7.83" fill="#45b538"/>
<rect x="948.5" y="270.05" width="22.0" height="7.83" fill="#58bc32"/>
<rect x="948.5" y="262.53" width="22.0" height="7.83" fill="#6bc42c"/>
<rect x="948.5" y="255.00" width="22.0" height="7.83" fill="#7fcc27"/>
<rect x="948.5" y="247.47" width="22.0" height="7.83" fill="#92d321"/>
<rect x="948.5" y="239.95" width="22.0" height="7.83" fill="#a5db1b"/>
<rect x="948.5" y="232.42" width="22.0" height="7.83" fill="#b8e315"/>
<rect x="948.5" y="224.89" width="22.0" height="7.83" fill="#cbea10"/>
<rect x="948.5" y="217.37" width="22.0" height="7.83" fill="#def20a"/>
<rect x="948.5" y="209.84" width="22.0" height="7.83" fill="#f2fa04"/>
<rect x="948.5" y="202.32" width="22.0" height="7.83" fill="#fff700"/>
<rect x="948.5" y="194.79" width="22.0" height="7.83" fill="#ffdc00"/>
<rect x="948.5" y="187.26" width="22.0" height="7.83" fill="#ffc100"/>
<rect x="948.5" y="179.74" width="22.0" height="7.83" fill="#ffa600"/>
<rect x="948.5" y="172.21" width="22.0" height="7.83" fill="#ff8c00"/>
<rect x="948.5" y="164.68" width="22.0" height="7.83" fill="#ff7100"/>
<rect x="948.5" y="157.16" width="22.0" height="7.83" fill="#ff5600"/>
<rect x="948.5" y="149.63" width="22.0" height="7.83" fill="#ff3b00"/>
<rect x="948.5" y="142.11" width="22.0" height="7.83" fill="#ff2000"/>
<rect x="948.5" y="134.58" width="22.0" height="7.83" fill="#ff0500"/>
<rect x="948.5" y="127.05" width="22.0" height="7.83" fill="#ea0000"/>
<rect x="948.5" y="119.53" width="22.0" height="7.83" fill="#cf0000"/>
<rect x="948.5" y="112.00" width="22.0" height="7.83" fill="#b40000"/>
<rect x="948.5" y="104.50" width="22.0" height="7.80" fill="#990000"/>
<line x1="948.5" x2="970.5" y1="112.50" y2="112.50" stroke="#000" stroke-width="1"/>
<line x1="948.5" x2="970.5" y1="120.50" y2="120.50" stroke="#000" stroke-width="1"/>
<line x1="948.5" x2="970.5" y1="127.50" y2="127.50" stroke="#000" stroke-width="1"/>
<line x1="948.5" x2="970.5" y1="135.50" y2="135.50" stroke="#000" stroke-width="1"/>
<line x1="948.5" x2="970.5" y1="142.50" y2="142.50" stroke="#000" stroke-width="1"/>
<line x1="948.5" x2="970.5" y1="150.50" y2="150.50" stroke="#000" stroke-width="1"/>
<line x1="948.5" x2="970.5" y1="157.50" y2="157.50" stroke="#000" stroke-width="1"/>
<line x1="948.5" x2="970.5" y1="165.50" y2="165.50" stroke="#000" stroke-width="1"/>
<line x1="948.5" x2="970.5" y1="172.50" y2="172.50" stroke="#000" stroke-width="1"/>
<line x1="948.5" x2="970.5" y1="180.50" y2="180.50" stroke="#000" stroke-width="1"/>
<line x1="948.5" x2="970.5" y1="187.50" y2="187.50" stroke="#000" stroke-width="1"/>
<line x1="948.5" x2="970.5" y1="195.50" y2="195.50" stroke="#000" stroke-width="1"/>
<line x1="948.5" x2="970.5" y1="202.50" y2="202.50" stroke="#000" stroke-width="1"/>
<line x1="948.5" x2="970.5" y1="210.50" y2="210.50" stroke="#000" stroke-width="1"/>
<line x1="948.5" x2="970.5" y1="217.50" y2="217.50" stroke="#000" stroke-width="1"/>
<line x1="948.5" x2="970.5" y1="225.50" y2="225.50" stroke="#000" stroke-width="1"/>
<line x1="948.5" x2="970.5" y1="232.50" y2="232.50" stroke="#000" stroke-width="1"/>
<line x1="948.5" x2="970.5" y1="240.50" y2="240.50" stroke="#000" stroke-width="1"/>
<line x1="948.5" x2="970.5" y1="247.50" y2="247.50" stroke="#000" stroke-width="1"/>
<line x1="948.5" x2="970.5" y1="255.50" y2="255.50" stroke="#000" stroke-width="1"/>
<line x1="948.5" x2="970.5" y1="263.50" y2="263.50" stroke="#000" stroke-width="1"/>
<line x1="948.5" x2="970.5" y1="270.50" y2="270.50" stroke="#000" stroke-width="1"/>
<line x1="948.5" x2="970.5" y1="278.50" y2="278.50" stroke="#000" stroke-width="1"/>
<line x1="948.5" x2="970.5" y1="285.50" y2="285.50" stroke="#000" stroke-width="1"/>
<line x1="948.5" x2="970.5" y1="293.50" y2="293.50" stroke="#000" stroke-width="1"/>
<line x1="948.5" x2="970.5" y1="300.50" y2="300.50" stroke="#000" stroke-width="1"/>
<line x1="948.5" x2="970.5" y1="308.50" y2="308.50" stroke="#000" stroke-width="1"/>
<line x1="948.5" x2="970.5" y1="315.50" y2="315.50" stroke="#000" stroke-width="1"/>
<line x1="948.5" x2="970.5" y1="323.50" y2="323.50" stroke="#000" stroke-width="1"/>
<line x1="948.5" x2="970.5" y1="330.50" y2="330.50" stroke="#000" stroke-width="1"/>
<line x1="948.5" x2="970.5" y1="338.50" y2="338.50" stroke="#000" stroke-width="1"/>
<line x1="948.5" x2="970.5" y1="345.50" y2="345.50" stroke="#000" stroke-width="1"/>
<line x1="948.5" x2="970.5" y1="353.50" y2="353.50" stroke="#000" stroke-width="1"/>
<line x1="948.5" x2="970.5" y1="360.50" y2="360.50" stroke="#000" stroke-width="1"/>
<line x1="948.5" x2="970.5" y1="368.50" y2="368.50" stroke="#000" stroke-width="1"/>
<line x1="948.5" x2="970.5" y1="375.50" y2="375.50" stroke="#000" stroke-width="1"/>
<line x1="948.5" x2="970.5" y1="383.50" y2="383.50" stroke="#000" stroke-width="1"/>
<line x1="948.5" x2="970.5" y1="390.50" y2="390.50" stroke="#000" stroke-width="1"/>
<line x1="948.5" x2="970.5" y1="398.50" y2="398.50" stroke="#000" stroke-width="1"/>
<rect x="948.5" y="104.5" width="22.0" height="294" fill="none" stroke="#000" stroke-width="1"/>
</g>
<text x="975" y="116.7" font-size="11.5" textLength="31" lengthAdjust="spacing">34.25</text>
<text x="975" y="131.8" font-size="11.5" textLength="31" lengthAdjust="spacing">34.15</text>
<text x="975" y="146.8" font-size="11.5" textLength="31" lengthAdjust="spacing">34.05</text>
<text x="975" y="161.9" font-size="11.5" textLength="31" lengthAdjust="spacing">33.95</text>
<text x="975" y="176.9" font-size="11.5" textLength="31" lengthAdjust="spacing">33.85</text>
<text x="975" y="192.0" font-size="11.5" textLength="31" lengthAdjust="spacing">33.75</text>
<text x="975" y="207.0" font-size="11.5" textLength="31" lengthAdjust="spacing">33.65</text>
<text x="975" y="222.1" font-size="11.5" textLength="31" lengthAdjust="spacing">33.55</text>
<text x="975" y="237.1" font-size="11.5" textLength="31" lengthAdjust="spacing">33.45</text>
<text x="975" y="252.2" font-size="11.5" textLength="31" lengthAdjust="spacing">33.35</text>
<text x="975" y="267.2" font-size="11.5" textLength="31" lengthAdjust="spacing">33.25</text>
<text x="975" y="282.3" font-size="11.5" textLength="31" lengthAdjust="spacing">33.15</text>
<text x="975" y="297.3" font-size="11.5" textLength="31" lengthAdjust="spacing">33.05</text>
<text x="975" y="312.4" font-size="11.5" textLength="31" lengthAdjust="spacing">32.95</text>
<text x="975" y="327.4" font-size="11.5" textLength="31" lengthAdjust="spacing">32.85</text>
<text x="975" y="342.5" font-size="11.5" textLength="31" lengthAdjust="spacing">32.75</text>
<text x="975" y="357.5" font-size="11.5" textLength="31" lengthAdjust="spacing">32.65</text>
<text x="975" y="372.6" font-size="11.5" textLength="31" lengthAdjust="spacing">32.55</text>
<text x="975" y="387.6" font-size="11.5" textLength="31" lengthAdjust="spacing">32.45</text>
<text x="975" y="402.7" font-size="11.5" textLength="31" lengthAdjust="spacing">32.35</text>
<g shape-rendering="crispEdges" stroke="#000" stroke-width="1.3" fill="none">
<path d="M90.5 104.5H933.5V398.5H90.5Z"/>
<path d="M90.5 124.5H80.5M90.5 143.5H80.5M90.5 163.5H80.5M90.5 182.5H80.5M90.5 202.5H80.5M90.5 222.5H80.5M90.5 241.5H80.5M90.5 261.5H80.5M90.5 280.5H80.5M90.5 300.5H80.5M90.5 320.5H80.5M90.5 339.5H80.5M90.5 359.5H80.5M90.5 378.5H80.5M90.5 398.5H80.5M90.5 398.5V403.5M90.5 104.5V99.5M94.5 398.5V403.5M94.5 104.5V99.5M100.5 398.5V403.5M100.5 104.5V99.5M105.5 398.5V403.5M105.5 104.5V99.5M110.5 398.5V403.5M110.5 104.5V99.5M115.5 398.5V403.5M115.5 104.5V99.5M120.5 398.5V407.5M120.5 104.5V95.0M125.5 398.5V403.5M125.5 104.5V99.5M130.5 398.5V403.5M130.5 104.5V99.5M135.5 398.5V403.5M135.5 104.5V99.5M140.5 398.5V403.5M140.5 104.5V99.5M146.5 398.5V403.5M146.5 104.5V99.5M151.5 398.5V403.5M151.5 104.5V99.5M156.5 398.5V403.5M156.5 104.5V99.5M161.5 398.5V403.5M161.5 104.5V99.5M166.5 398.5V403.5M166.5 104.5V99.5M171.5 398.5V403.5M171.5 104.5V99.5M176.5 398.5V403.5M176.5 104.5V99.5M182.5 398.5V403.5M182.5 104.5V99.5M187.5 398.5V403.5M187.5 104.5V99.5M192.5 398.5V403.5M192.5 104.5V99.5M197.5 398.5V403.5M197.5 104.5V99.5M202.5 398.5V403.5M202.5 104.5V99.5M207.5 398.5V403.5M207.5 104.5V99.5M212.5 398.5V403.5M212.5 104.5V99.5M217.5 398.5V403.5M217.5 104.5V99.5M222.5 398.5V403.5M222.5 104.5V99.5M228.5 398.5V403.5M228.5 104.5V99.5M233.5 398.5V403.5M233.5 104.5V99.5M238.5 398.5V403.5M238.5 104.5V99.5M243.5 398.5V407.5M243.5 104.5V95.0M248.5 398.5V403.5M248.5 104.5V99.5M253.5 398.5V403.5M253.5 104.5V99.5M258.5 398.5V403.5M258.5 104.5V99.5M264.5 398.5V403.5M264.5 104.5V99.5M269.5 398.5V403.5M269.5 104.5V99.5M274.5 398.5V403.5M274.5 104.5V99.5M279.5 398.5V403.5M279.5 104.5V99.5M284.5 398.5V403.5M284.5 104.5V99.5M289.5 398.5V403.5M289.5 104.5V99.5M294.5 398.5V403.5M294.5 104.5V99.5M299.5 398.5V403.5M299.5 104.5V99.5M304.5 398.5V403.5M304.5 104.5V99.5M310.5 398.5V403.5M310.5 104.5V99.5M315.5 398.5V403.5M315.5 104.5V99.5M320.5 398.5V403.5M320.5 104.5V99.5M325.5 398.5V403.5M325.5 104.5V99.5M330.5 398.5V403.5M330.5 104.5V99.5M335.5 398.5V403.5M335.5 104.5V99.5M340.5 398.5V403.5M340.5 104.5V99.5M346.5 398.5V403.5M346.5 104.5V99.5M351.5 398.5V403.5M351.5 104.5V99.5M356.5 398.5V403.5M356.5 104.5V99.5M361.5 398.5V403.5M361.5 104.5V99.5M366.5 398.5V407.5M366.5 104.5V95.0M371.5 398.5V403.5M371.5 104.5V99.5M376.5 398.5V403.5M376.5 104.5V99.5M381.5 398.5V403.5M381.5 104.5V99.5M386.5 398.5V403.5M386.5 104.5V99.5M392.5 398.5V403.5M392.5 104.5V99.5M397.5 398.5V403.5M397.5 104.5V99.5M402.5 398.5V403.5M402.5 104.5V99.5M407.5 398.5V403.5M407.5 104.5V99.5M412.5 398.5V403.5M412.5 104.5V99.5M417.5 398.5V403.5M417.5 104.5V99.5M422.5 398.5V403.5M422.5 104.5V99.5M428.5 398.5V403.5M428.5 104.5V99.5M433.5 398.5V403.5M433.5 104.5V99.5M438.5 398.5V403.5M438.5 104.5V99.5M443.5 398.5V403.5M443.5 104.5V99.5M448.5 398.5V403.5M448.5 104.5V99.5M453.5 398.5V403.5M453.5 104.5V99.5M458.5 398.5V403.5M458.5 104.5V99.5M463.5 398.5V403.5M463.5 104.5V99.5M468.5 398.5V403.5M468.5 104.5V99.5M474.5 398.5V403.5M474.5 104.5V99.5M479.5 398.5V403.5M479.5 104.5V99.5M484.5 398.5V403.5M484.5 104.5V99.5M489.5 398.5V407.5M489.5 104.5V95.0M494.5 398.5V403.5M494.5 104.5V99.5M499.5 398.5V403.5M499.5 104.5V99.5M504.5 398.5V403.5M504.5 104.5V99.5M510.5 398.5V403.5M510.5 104.5V99.5M515.5 398.5V403.5M515.5 104.5V99.5M520.5 398.5V403.5M520.5 104.5V99.5M525.5 398.5V403.5M525.5 104.5V99.5M530.5 398.5V403.5M530.5 104.5V99.5M535.5 398.5V403.5M535.5 104.5V99.5M540.5 398.5V403.5M540.5 104.5V99.5M545.5 398.5V403.5M545.5 104.5V99.5M550.5 398.5V403.5M550.5 104.5V99.5M556.5 398.5V403.5M556.5 104.5V99.5M561.5 398.5V403.5M561.5 104.5V99.5M566.5 398.5V403.5M566.5 104.5V99.5M571.5 398.5V403.5M571.5 104.5V99.5M576.5 398.5V403.5M576.5 104.5V99.5M581.5 398.5V403.5M581.5 104.5V99.5M586.5 398.5V403.5M586.5 104.5V99.5M592.5 398.5V403.5M592.5 104.5V99.5M597.5 398.5V403.5M597.5 104.5V99.5M602.5 398.5V403.5M602.5 104.5V99.5M607.5 398.5V403.5M607.5 104.5V99.5M612.5 398.5V407.5M612.5 104.5V95.0M617.5 398.5V403.5M617.5 104.5V99.5M622.5 398.5V403.5M622.5 104.5V99.5M627.5 398.5V403.5M627.5 104.5V99.5M632.5 398.5V403.5M632.5 104.5V99.5M638.5 398.5V403.5M638.5 104.5V99.5M643.5 398.5V403.5M643.5 104.5V99.5M648.5 398.5V403.5M648.5 104.5V99.5M653.5 398.5V403.5M653.5 104.5V99.5M658.5 398.5V403.5M658.5 104.5V99.5M663.5 398.5V403.5M663.5 104.5V99.5M668.5 398.5V403.5M668.5 104.5V99.5M674.5 398.5V403.5M674.5 104.5V99.5M679.5 398.5V403.5M679.5 104.5V99.5M684.5 398.5V403.5M684.5 104.5V99.5M689.5 398.5V403.5M689.5 104.5V99.5M694.5 398.5V403.5M694.5 104.5V99.5M699.5 398.5V403.5M699.5 104.5V99.5M704.5 398.5V403.5M704.5 104.5V99.5M709.5 398.5V403.5M709.5 104.5V99.5M714.5 398.5V403.5M714.5 104.5V99.5M720.5 398.5V403.5M720.5 104.5V99.5M725.5 398.5V403.5M725.5 104.5V99.5M730.5 398.5V403.5M730.5 104.5V99.5M735.5 398.5V407.5M735.5 104.5V95.0M740.5 398.5V403.5M740.5 104.5V99.5M745.5 398.5V403.5M745.5 104.5V99.5M750.5 398.5V403.5M750.5 104.5V99.5M756.5 398.5V403.5M756.5 104.5V99.5M761.5 398.5V403.5M761.5 104.5V99.5M766.5 398.5V403.5M766.5 104.5V99.5M771.5 398.5V403.5M771.5 104.5V99.5M776.5 398.5V403.5M776.5 104.5V99.5M781.5 398.5V403.5M781.5 104.5V99.5M786.5 398.5V403.5M786.5 104.5V99.5M791.5 398.5V403.5M791.5 104.5V99.5M796.5 398.5V403.5M796.5 104.5V99.5M802.5 398.5V403.5M802.5 104.5V99.5M807.5 398.5V403.5M807.5 104.5V99.5M812.5 398.5V403.5M812.5 104.5V99.5M817.5 398.5V403.5M817.5 104.5V99.5M822.5 398.5V403.5M822.5 104.5V99.5M827.5 398.5V403.5M827.5 104.5V99.5M832.5 398.5V403.5M832.5 104.5V99.5M838.5 398.5V403.5M838.5 104.5V99.5M843.5 398.5V403.5M843.5 104.5V99.5M848.5 398.5V403.5M848.5 104.5V99.5M853.5 398.5V403.5M853.5 104.5V99.5M858.5 398.5V407.5M858.5 104.5V95.0M863.5 398.5V403.5M863.5 104.5V99.5M868.5 398.5V403.5M868.5 104.5V99.5M873.5 398.5V403.5M873.5 104.5V99.5M878.5 398.5V403.5M878.5 104.5V99.5M884.5 398.5V403.5M884.5 104.5V99.5M889.5 398.5V403.5M889.5 104.5V99.5M894.5 398.5V403.5M894.5 104.5V99.5M899.5 398.5V403.5M899.5 104.5V99.5M904.5 398.5V403.5M904.5 104.5V99.5M909.5 398.5V403.5M909.5 104.5V99.5M914.5 398.5V403.5M914.5 104.5V99.5M920.5 398.5V403.5M920.5 104.5V99.5M925.5 398.5V403.5M925.5 104.5V99.5M930.5 398.5V403.5M930.5 104.5V99.5"/>
</g>
<g shape-rendering="crispEdges" stroke="#000" stroke-width="1.3">
<path d="M933.5 124.5H940.5M933.5 143.5H940.5M933.5 163.5H940.5M933.5 182.5H940.5M933.5 202.5H940.5M933.5 222.5H940.5M933.5 241.5H940.5M933.5 261.5H940.5M933.5 280.5H940.5M933.5 300.5H940.5M933.5 320.5H940.5M933.5 339.5H940.5M933.5 359.5H940.5M933.5 378.5H940.5M933.5 398.5H940.5"/>
</g>
<text x="90.5" y="34.5" font-size="11.5" textLength="148" lengthAdjust="spacing">LONGITUDE : 122W(-122)</text>
<text x="90.5" y="47" font-size="11.5" textLength="98" lengthAdjust="spacing">LATITUDE : 36.8N</text>
<text x="90.5" y="59.5" font-size="11.5" textLength="70.5" lengthAdjust="spacing">YEAR : 2011</text>
<text y="80.7" font-size="13.3"><tspan x="225.9" textLength="40.2" lengthAdjust="spacingAndGlyphs">Hourly</tspan> <tspan x="273.5" textLength="49.1" lengthAdjust="spacingAndGlyphs">Gridded</tspan> <tspan x="331.5" textLength="37.2" lengthAdjust="spacingAndGlyphs">MBARI</tspan> <tspan x="377.0" textLength="51.1" lengthAdjust="spacingAndGlyphs">Mooring</tspan> <tspan x="436.5" textLength="16.3" lengthAdjust="spacingAndGlyphs">M1</tspan> <tspan x="461.4" textLength="23.2" lengthAdjust="spacingAndGlyphs">Sea</tspan> <tspan x="492.0" textLength="38.8" lengthAdjust="spacingAndGlyphs">Water</tspan> <tspan x="538.2" textLength="82.4" lengthAdjust="spacingAndGlyphs">Temperature</tspan> <tspan x="628.3" textLength="22.0" lengthAdjust="spacingAndGlyphs">and</tspan> <tspan x="659.6" textLength="46.7" lengthAdjust="spacingAndGlyphs">Salinity</tspan> <tspan x="714.6" textLength="83.2" lengthAdjust="spacingAndGlyphs">Observations</tspan></text>
<text x="75" y="127.3" font-size="11.5" text-anchor="end">20</text>
<text x="75" y="166.5" font-size="11.5" text-anchor="end">60</text>
<text x="75" y="205.7" font-size="11.5" text-anchor="end">100</text>
<text x="75" y="244.9" font-size="11.5" text-anchor="end">140</text>
<text x="75" y="284.1" font-size="11.5" text-anchor="end">180</text>
<text x="75" y="323.3" font-size="11.5" text-anchor="end">220</text>
<text x="75" y="362.5" font-size="11.5" text-anchor="end">260</text>
<text x="75" y="401.7" font-size="11.5" text-anchor="end">300</text>
<text x="75" y="401.7" font-size="11.5" text-anchor="end">300</text>
<text transform="translate(45,288.5) rotate(-90)" font-size="12.3" textLength="73.5" lengthAdjust="spacing">DEPTH (m)</text>
<text x="90.0" y="418.7" font-size="11.5" text-anchor="middle" textLength="13.5" lengthAdjust="spacing">18</text>
<text x="120.8" y="418.7" font-size="11.5" text-anchor="middle" textLength="13.5" lengthAdjust="spacing">00</text>
<text x="151.6" y="418.7" font-size="11.5" text-anchor="middle" textLength="13.5" lengthAdjust="spacing">06</text>
<text x="182.3" y="418.7" font-size="11.5" text-anchor="middle" textLength="13.5" lengthAdjust="spacing">12</text>
<text x="213.1" y="418.7" font-size="11.5" text-anchor="middle" textLength="13.5" lengthAdjust="spacing">18</text>
<text x="243.8" y="418.7" font-size="11.5" text-anchor="middle" textLength="13.5" lengthAdjust="spacing">00</text>
<text x="274.6" y="418.7" font-size="11.5" text-anchor="middle" textLength="13.5" lengthAdjust="spacing">06</text>
<text x="305.3" y="418.7" font-size="11.5" text-anchor="middle" textLength="13.5" lengthAdjust="spacing">12</text>
<text x="336.1" y="418.7" font-size="11.5" text-anchor="middle" textLength="13.5" lengthAdjust="spacing">18</text>
<text x="366.8" y="418.7" font-size="11.5" text-anchor="middle" textLength="13.5" lengthAdjust="spacing">00</text>
<text x="397.6" y="418.7" font-size="11.5" text-anchor="middle" textLength="13.5" lengthAdjust="spacing">06</text>
<text x="428.3" y="418.7" font-size="11.5" text-anchor="middle" textLength="13.5" lengthAdjust="spacing">12</text>
<text x="459.1" y="418.7" font-size="11.5" text-anchor="middle" textLength="13.5" lengthAdjust="spacing">18</text>
<text x="489.8" y="418.7" font-size="11.5" text-anchor="middle" textLength="13.5" lengthAdjust="spacing">00</text>
<text x="520.5" y="418.7" font-size="11.5" text-anchor="middle" textLength="13.5" lengthAdjust="spacing">06</text>
<text x="551.3" y="418.7" font-size="11.5" text-anchor="middle" textLength="13.5" lengthAdjust="spacing">12</text>
<text x="582.0" y="418.7" font-size="11.5" text-anchor="middle" textLength="13.5" lengthAdjust="spacing">18</text>
<text x="612.8" y="418.7" font-size="11.5" text-anchor="middle" textLength="13.5" lengthAdjust="spacing">00</text>
<text x="643.5" y="418.7" font-size="11.5" text-anchor="middle" textLength="13.5" lengthAdjust="spacing">06</text>
<text x="674.3" y="418.7" font-size="11.5" text-anchor="middle" textLength="13.5" lengthAdjust="spacing">12</text>
<text x="705.0" y="418.7" font-size="11.5" text-anchor="middle" textLength="13.5" lengthAdjust="spacing">18</text>
<text x="735.8" y="418.7" font-size="11.5" text-anchor="middle" textLength="13.5" lengthAdjust="spacing">00</text>
<text x="766.5" y="418.7" font-size="11.5" text-anchor="middle" textLength="13.5" lengthAdjust="spacing">06</text>
<text x="797.3" y="418.7" font-size="11.5" text-anchor="middle" textLength="13.5" lengthAdjust="spacing">12</text>
<text x="828.0" y="418.7" font-size="11.5" text-anchor="middle" textLength="13.5" lengthAdjust="spacing">18</text>
<text x="858.8" y="418.7" font-size="11.5" text-anchor="middle" textLength="13.5" lengthAdjust="spacing">00</text>
<text x="889.5" y="418.7" font-size="11.5" text-anchor="middle" textLength="13.5" lengthAdjust="spacing">06</text>
<text x="920.3" y="418.7" font-size="11.5" text-anchor="middle" textLength="13.5" lengthAdjust="spacing">12</text>
<text x="72.5" y="438.8" font-size="16.8" textLength="61.2" lengthAdjust="spacing">SEP 17</text>
<text x="146.2" y="438.8" font-size="16.8" textLength="61.8" lengthAdjust="spacing">SEP 18</text>
<text x="269.5" y="438.8" font-size="16.8" textLength="61.0" lengthAdjust="spacing">SEP 19</text>
<text x="392.5" y="438.8" font-size="16.8" textLength="61.2" lengthAdjust="spacing">SEP 20</text>
<text x="515.8" y="438.8" font-size="16.8" textLength="58.8" lengthAdjust="spacing">SEP 21</text>
<text x="638.0" y="438.8" font-size="16.8" textLength="60.0" lengthAdjust="spacing">SEP 22</text>
<text x="760.0" y="438.8" font-size="16.8" textLength="62.0" lengthAdjust="spacing">SEP 23</text>
<text x="860.0" y="438.8" font-size="16.8" textLength="61.0" lengthAdjust="spacing">SEP 24</text>
<text y="475.8" font-size="23.5" class="s"><tspan x="399.5" textLength="40.5" lengthAdjust="spacing">Sea</tspan> <tspan x="455.0" textLength="65.0" lengthAdjust="spacing">Water</tspan> <tspan x="533.8" textLength="91.2" lengthAdjust="spacing">Salinity</tspan></text>
</svg></body></html>
